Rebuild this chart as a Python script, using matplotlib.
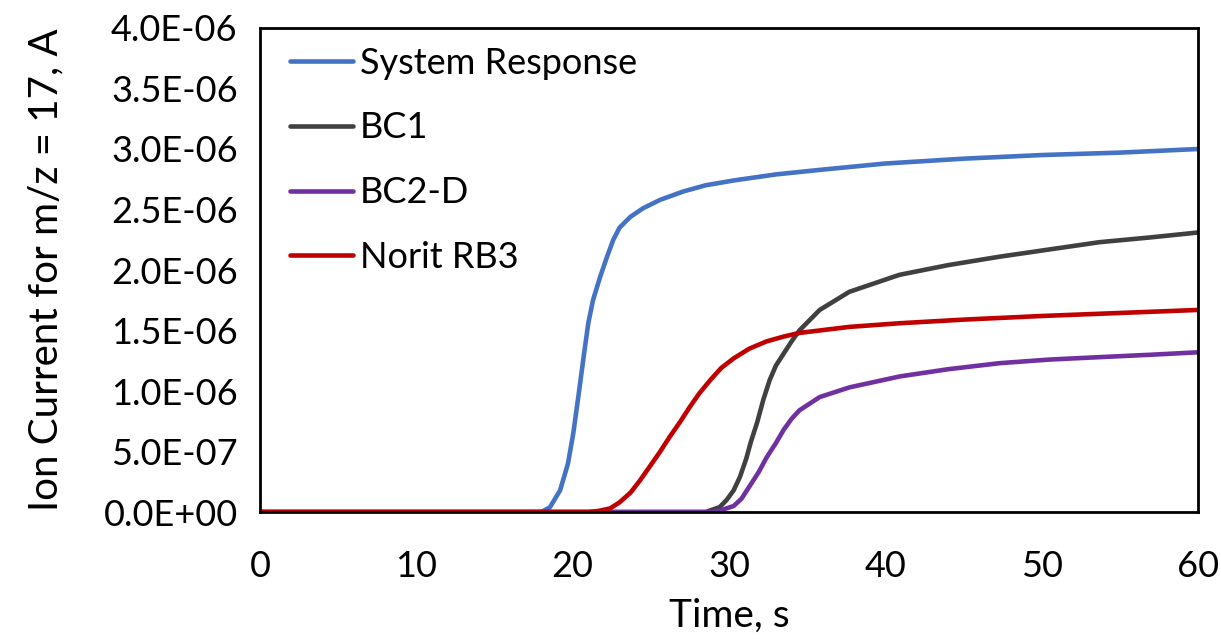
import matplotlib
matplotlib.use("Agg")
import matplotlib.pyplot as plt
import numpy as np

plt.rcParams['font.family'] = ['Lato', 'DejaVu Sans']

# Breakthrough curves, ion current (1E-06 A) vs time (s)
t_system = [0, 18.0, 18.55, 19.2, 19.7, 20.04, 20.36, 20.7, 21.0, 21.3, 21.75, 22.2,
            22.6, 23.0, 23.7, 24.5, 25.6, 27.1, 28.5, 30.3, 33, 36, 40, 45, 50, 55, 60]
i_system = [0, 0, 0.04, 0.18, 0.40, 0.65, 0.95, 1.28, 1.56, 1.75, 1.94, 2.11,
            2.25, 2.35, 2.44, 2.51, 2.58, 2.65, 2.70, 2.74, 2.79, 2.83, 2.88, 2.92,
            2.95, 2.97, 3.00]

t_bc1 = [0, 28.5, 29.4, 29.85, 30.3, 30.7, 31.1, 31.4, 31.8, 32.2, 32.6, 33.0, 33.5,
         34.0, 34.5, 35.8, 37.7, 40.9, 44, 47.3, 50.5, 53.7, 57, 60]
i_bc1 = [0, 0, 0.04, 0.10, 0.18, 0.29, 0.44, 0.58, 0.74, 0.93, 1.09, 1.21, 1.31,
         1.41, 1.50, 1.67, 1.82, 1.96, 2.04, 2.11, 2.17, 2.23, 2.27, 2.31]

t_bc2d = [0, 29.0, 29.6, 30.3, 30.8, 31.3, 31.9, 32.4, 33.0, 33.5, 34.0, 34.5, 35.8,
          37.7, 40.9, 44, 47.3, 50.5, 53.7, 57, 60]
i_bc2d = [0, 0, 0.02, 0.05, 0.11, 0.21, 0.33, 0.45, 0.57, 0.68, 0.77, 0.84, 0.95,
          1.03, 1.12, 1.18, 1.23, 1.26, 1.28, 1.30, 1.32]

t_norit = [0, 21.0, 21.7, 22.4, 23.0, 23.7, 24.3, 24.9, 25.6, 26.2, 26.9, 27.5,
           28.1, 28.8, 29.5, 30.3, 31.3, 32.4, 33.5, 34.5, 37.7, 40.9, 45, 50, 55, 60]
i_norit = [0, 0, 0.01, 0.03, 0.08, 0.16, 0.26, 0.37, 0.50, 0.62, 0.75, 0.87,
           0.98, 1.09, 1.19, 1.27, 1.35, 1.41, 1.45, 1.48, 1.53, 1.56, 1.59, 1.62,
           1.645, 1.67]

series_labels = ["System Response", "BC1", "BC2-D", "Norit RB3"]
series_colors = ["#4472C4", "#404040", "#7030A0", "#C00000"]

x_ticks = [0, 10, 20, 30, 40, 50, 60]
y_ticks = [0, 0.5e-6, 1.0e-6, 1.5e-6, 2.0e-6, 2.5e-6, 3.0e-6, 3.5e-6, 4.0e-6]
y_tick_labels = ["0.0E+00", "5.0E-07", "1.0E-06", "1.5E-06", "2.0E-06",
                 "2.5E-06", "3.0E-06", "3.5E-06", "4.0E-06"]

fig = plt.figure(figsize=(12.21, 6.39), dpi=100)
ax = fig.add_axes([0.2129, 0.1987, 0.9812 - 0.2129, 0.9562 - 0.1987])

data = [(t_system, i_system), (t_bc1, i_bc1), (t_bc2d, i_bc2d), (t_norit, i_norit)]
for (t, i), lab, col in zip(data, series_labels, series_colors):
    ax.plot(t, np.array(i) * 1e-6, color=col, lw=3.3, label=lab,
            solid_capstyle='round', solid_joinstyle='round')

ax.set_xlim(0, 60)
ax.set_ylim(0, 4.0e-6)
ax.set_xticks(x_ticks)
ax.set_xticklabels([str(v) for v in x_ticks])
ax.set_yticks(y_ticks)
ax.set_yticklabels(y_tick_labels)
ax.tick_params(axis='both', length=0, labelsize=26)
ax.tick_params(axis='y', pad=16)
ax.tick_params(axis='x', pad=27)
for s in ax.spines.values():
    s.set_linewidth(2.0)
    s.set_color('black')

ax.set_xlabel("Time, s", fontsize=28, labelpad=11)
ax.set_ylabel("Ion Current for m/z = 17, A", fontsize=29, labelpad=28)

leg = ax.legend(loc='upper left', bbox_to_anchor=(0.0, 1.0 + 11 / 484), frameon=False,
                fontsize=26, handlelength=1.75, handletextpad=0.2,
                labelspacing=0.88, borderaxespad=0.42, borderpad=0.4)

fig.savefig("out.png", dpi=100)
